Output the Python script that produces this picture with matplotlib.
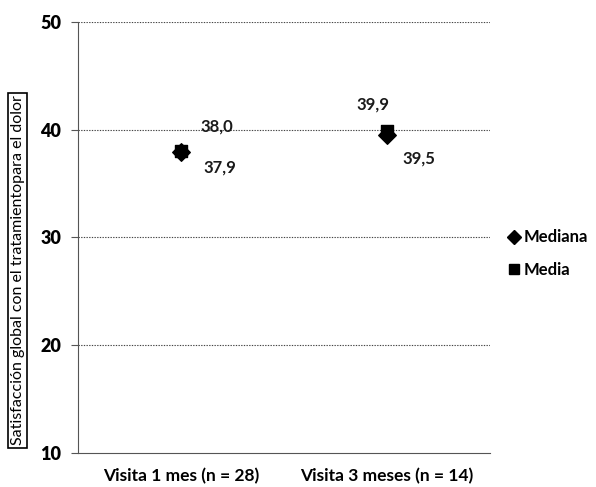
import matplotlib
matplotlib.use("Agg")
import matplotlib.pyplot as plt
from matplotlib.lines import Line2D

categories = ["Visita 1 mes (n = 28)", "Visita 3 meses (n = 14)"]
mediana = [37.9, 39.5]
media = [38.0, 39.9]
mediana_labels = ["37,9", "39,5"]
media_labels = ["38,0", "39,9"]
yticks = [10, 20, 30, 40, 50]

plt.rcParams['font.family'] = ['Lato', 'DejaVu Sans']

fig = plt.figure(figsize=(5.96, 4.87), dpi=100)
ax = fig.add_axes([0.131, 0.070, 0.691, 0.885])

x = list(range(len(categories)))
ax.scatter(x, mediana, marker='D', s=80, color='black', zorder=3, label='Mediana')
ax.scatter(x, media, marker='s', s=75, color='black', zorder=4, label='Media')

# annotations
offs_media = [(14, 18), (-22, 19)]
offs_med = [(16, -11), (11, -17)]
for i in x:
    ax.annotate(media_labels[i], (x[i], media[i]), xytext=offs_media[i], textcoords='offset points',
                fontsize=12, fontweight='bold', color='#1a1a1a', ha='left', va='center')
    ax.annotate(mediana_labels[i], (x[i], mediana[i]), xytext=offs_med[i], textcoords='offset points',
                fontsize=12, fontweight='bold', color='#1a1a1a', ha='left', va='center')

ax.set_xlim(-0.5, 1.5)
ax.set_ylim(10, 50)
ax.set_yticks(yticks)
ax.set_yticklabels([str(v) for v in yticks], fontsize=13, fontweight='heavy')
ax.set_xticks(x)
ax.set_xticklabels(categories, fontsize=12.5, fontweight='bold')
ax.tick_params(axis='x', length=0, pad=11)
ax.tick_params(axis='y', length=5, direction='out', pad=7, color='#555555')
for yv in yticks[1:]:
    ax.axhline(yv, color='#444444', linestyle=(0, (1.2, 1.2)), linewidth=0.8, zorder=1)
ax.spines['top'].set_visible(False)
ax.spines['right'].set_visible(False)
ax.spines['left'].set_color('#555555')
ax.spines['bottom'].set_color('#555555')

handles = [Line2D([], [], marker='D', color='black', linestyle='None', markersize=7),
           Line2D([], [], marker='s', color='black', linestyle='None', markersize=7)]
leg = ax.legend(handles, ['Mediana', 'Media'], loc='center left', bbox_to_anchor=(1.01, 0.462),
                frameon=False, handletextpad=0.05, labelspacing=1.0, handlelength=1.0,
                borderaxespad=0.3, prop={'weight': 'bold', 'size': 12})

fig.text(0.030, 0.445, "Satisfacción global con el tratamientopara el dolor", rotation=90,
         fontsize=11.5, ha='center', va='center',
         bbox=dict(boxstyle='square,pad=0.15', facecolor='white', edgecolor='black', linewidth=1.2))

fig.savefig("out.png", dpi=100)
